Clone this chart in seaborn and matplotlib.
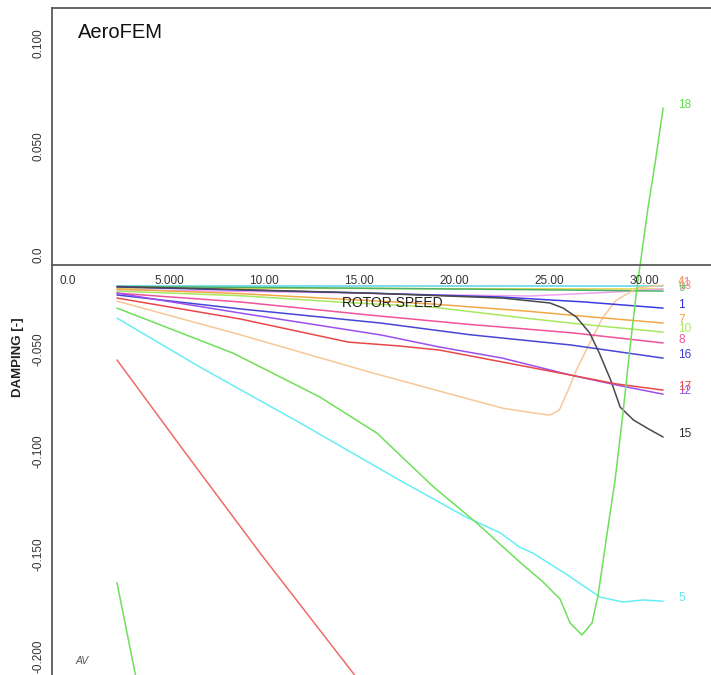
import numpy as np
import pandas as pd
import matplotlib
matplotlib.use("Agg")
import matplotlib.pyplot as plt
from matplotlib.transforms import offset_copy
import seaborn as sns

# ---- damping vs rotor speed, one curve per mode ----
speed_1 = [3.42, 10.0, 16.7, 23.6, 28.0, 32.16]
damp_1 = [-0.0107, -0.0122, -0.0137, -0.0156, -0.0180, -0.0210]

speed_2 = [3.42, 6.89, 10.95, 15.84, 16.3]
damp_2 = [-0.0463, -0.0900, -0.1405, -0.1990, -0.2050]

speed_4 = [3.42, 9.9, 16.7, 23.7, 25.2, 26.2, 26.7, 27.1, 27.6, 28.3, 29.0, 29.7, 30.8, 32.16]
damp_4 = [-0.0176, -0.0340, -0.0522, -0.0698, -0.0720, -0.0732, -0.0707, -0.0624,
          -0.0512, -0.0380, -0.0254, -0.0171, -0.0112, -0.0098]

speed_5 = [3.42, 7.79, 13.05, 18.3, 21.8, 23.6, 24.6, 25.3, 27.1, 28.84, 30.05, 31.1, 32.16]
damp_5 = [-0.0259, -0.0498, -0.0770, -0.1050, -0.1230, -0.1307, -0.1376, -0.1405,
          -0.1510, -0.1620, -0.1644, -0.1634, -0.1640]

speed_6 = [3.42, 4.37, 4.5]
damp_6 = [-0.155, -0.199, -0.205]

speed_7 = [3.42, 10.0, 15.0, 20.0, 25.0, 28.0, 32.16]
damp_7 = [-0.0117, -0.0140, -0.0165, -0.0190, -0.0225, -0.0250, -0.0283]

speed_8 = [3.42, 9.9, 16.7, 22.0, 27.3, 32.16]
damp_8 = [-0.0137, -0.0180, -0.0244, -0.0290, -0.0330, -0.0380]

speed_9 = [3.42, 15.0, 25.0, 32.16]
damp_9 = [-0.0105, -0.0112, -0.0120, -0.0127]

speed_10 = [3.42, 10.0, 15.0, 20.0, 25.0, 28.0, 32.16]
damp_10 = [-0.0127, -0.0150, -0.0180, -0.0205, -0.0260, -0.0290, -0.0327]

speed_11 = [3.42, 32.16]
damp_11 = [-0.0102, -0.0102]

speed_12 = [3.42, 9.9, 17.3, 20.4, 23.7, 27.3, 29.7, 32.16]
damp_12 = [-0.0137, -0.0234, -0.0341, -0.0400, -0.0454, -0.0537, -0.0585, -0.0630]

speed_13 = [3.42, 15.0, 20.0, 25.2, 29.5, 32.16]
damp_13 = [-0.0120, -0.0135, -0.0145, -0.0151, -0.0132, -0.0117]

speed_14 = [3.42, 32.16]
damp_14 = [-0.0112, -0.0117]

speed_15 = [3.42, 10.0, 16.7, 23.7, 26.2, 26.9, 27.6, 28.3, 28.8, 29.4, 29.9, 30.6, 31.4, 32.16]
damp_15 = [-0.0105, -0.0120, -0.0137, -0.0161, -0.0185, -0.0210, -0.0254, -0.0332,
           -0.0429, -0.0561, -0.0693, -0.0756, -0.0800, -0.0839]

speed_16 = [3.42, 10.0, 17.3, 22.0, 27.3, 32.16]
damp_16 = [-0.0146, -0.0215, -0.0283, -0.0340, -0.0390, -0.0454]

speed_17 = [3.42, 9.9, 15.6, 18.3, 20.4, 23.7, 27.3, 29.7, 32.16]
damp_17 = [-0.0161, -0.0263, -0.0376, -0.0395, -0.0415, -0.0473, -0.0537, -0.0580, -0.0610]

speed_18 = [3.42, 9.53, 14.1, 17.1, 20.05, 22.37, 24.63, 25.84, 26.74, 27.26, 27.89,
            28.42, 28.74, 29.21, 29.63, 30.05, 30.42, 30.79, 31.37, 31.74, 32.16]
damp_18 = [-0.0210, -0.0430, -0.0644, -0.0820, -0.1080, -0.1260, -0.1450, -0.1546,
           -0.1630, -0.1746, -0.1805, -0.1746, -0.1610, -0.1310, -0.1050, -0.0720,
           -0.0400, -0.0107, 0.0283, 0.0498, 0.0766]

# drawing order, colours and end labels
modes = ["14", "11", "13", "9", "4", "7", "10", "8", "16", "1", "15",
         "12", "17", "5", "2", "6", "18"]
mode_speed = {"1": speed_1, "2": speed_2, "4": speed_4, "5": speed_5, "6": speed_6,
              "7": speed_7, "8": speed_8, "9": speed_9, "10": speed_10, "11": speed_11,
              "12": speed_12, "13": speed_13, "14": speed_14, "15": speed_15,
              "16": speed_16, "17": speed_17, "18": speed_18}
mode_damp = {"1": damp_1, "2": damp_2, "4": damp_4, "5": damp_5, "6": damp_6,
             "7": damp_7, "8": damp_8, "9": damp_9, "10": damp_10, "11": damp_11,
             "12": damp_12, "13": damp_13, "14": damp_14, "15": damp_15,
             "16": damp_16, "17": damp_17, "18": damp_18}
line_colours = {"1": "#3c3ce0", "2": "#f06a6a", "4": "#f8c898", "5": "#66eef6",
                "6": "#6ee05a", "7": "#f2a848", "8": "#f0529c", "9": "#48b46a",
                "10": "#a8e860", "11": "#58d4e6", "12": "#9a50ee", "13": "#f0a0ee",
                "14": "#e6d44c", "15": "#4a4a4a", "16": "#4646d6", "17": "#e84848",
                "18": "#6ee05a"}
label_colours = {"1": "#2c2cd8", "4": "#f0a070", "5": "#5ee8f2", "7": "#f2a040",
                 "8": "#f0529c", "9": "#60c068", "10": "#a8e860", "11": "#f07888",
                 "12": "#9a50ee", "13": "#f09898", "15": "#303030", "16": "#3c3cd0",
                 "17": "#e84848", "18": "#5ee04a"}

x_ticks = [0, 5, 10, 15, 20, 25, 30]
x_tick_labels = ["0.0", "5.000", "10.00", "15.00", "20.00", "25.00", "30.00"]
y_ticks = [-0.2, -0.15, -0.1, -0.05, 0.0, 0.05, 0.1]
y_tick_labels = ["-0.200", "-0.150", "-0.100", "-0.050", "0.0", "0.050", "0.100"]

sns.set_style("white")
plt.rcParams["font.family"] = ["Liberation Sans", "DejaVu Sans"]

W, H = 711, 675
fig = plt.figure(figsize=(W / 100, H / 100), dpi=100)
ax = fig.add_axes([52 / W, 0.0, 1 - 52 / W, (H - 8) / H])
ax.set_facecolor("white")

for m in modes:
    df = pd.DataFrame({"speed": mode_speed[m], "damping": mode_damp[m]})
    sns.lineplot(data=df, x="speed", y="damping", color=line_colours[m], lw=1.1,
                 estimator=None, sort=False, legend=False, ax=ax)
    if m in label_colours:
        ax.annotate(m, xy=(mode_speed[m][-1], mode_damp[m][-1]),
                    xytext=(15, 3), textcoords="offset pixels",
                    ha="left", va="center", fontsize=8.5,
                    color=label_colours[m], annotation_clip=False)

ax.set_xlim(0, 34.68)
ax.set_ylim(-0.2, 0.1254)

# frame: left and top edges, horizontal axis through zero
axis_col = "#5a5a5a"
ax.spines["right"].set_visible(False)
ax.spines["bottom"].set_position(("data", 0))
for side in ("left", "top", "bottom"):
    ax.spines[side].set_color(axis_col)
    ax.spines[side].set_linewidth(1.3)

ax.set_xticks(np.arange(0, 32.6, 2.5))
ax.set_yticks(np.arange(-0.2, 0.126, 0.025))
ax.tick_params(axis="x", direction="in", length=6, width=1.1, color=axis_col,
               labelbottom=False, top=False)
ax.tick_params(axis="y", direction="out", length=5, width=1.1, color=axis_col,
               labelleft=False)
ax.set_xlabel("")
ax.set_ylabel("")

txt_col = "#333333"
xlab_tr = offset_copy(ax.transData, fig=fig, x=7, y=-16, units="dots")
for v, s in zip(x_ticks, x_tick_labels):
    ax.text(v, 0.0, s, transform=xlab_tr, ha="left", va="center",
            fontsize=8.5, color=txt_col)

ylab_tr = offset_copy(ax.transData, fig=fig, x=-14, y=2, units="dots")
for v, s in zip(y_ticks, y_tick_labels):
    ax.text(0.0, v, s, transform=ylab_tr, rotation=90, rotation_mode="anchor",
            ha="left", va="center", fontsize=8.5, color=txt_col, clip_on=False)

ax.text(17.9, -0.0185, "ROTOR SPEED", ha="center", va="center",
        fontsize=10, color="#222222")
fig.text(18 / W, 1 - 357 / H, "DAMPING [-]", rotation=90, ha="center", va="center",
         fontsize=9.5, fontweight="bold", color="#222222")
fig.text(78 / W, 1 - 32 / H, "AeroFEM", ha="left", va="center",
         fontsize=14.5, color="#111111")
fig.text(76 / W, 1 - 661 / H, "AV", ha="left", va="center", fontsize=7.5,
         style="italic", color="#555555")

fig.savefig("out.png", dpi=100)
